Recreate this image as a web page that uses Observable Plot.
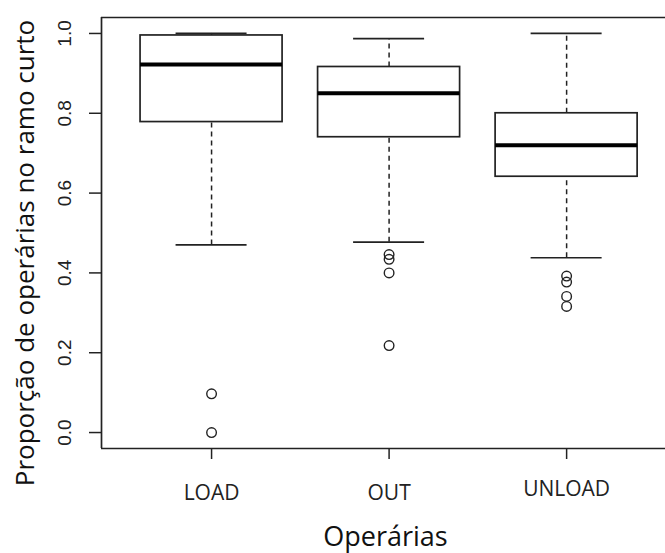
<!DOCTYPE html>
<html>
<head>
<meta charset="utf-8">
<script src="https://cdn.jsdelivr.net/npm/d3@7"></script>
<script src="https://cdn.jsdelivr.net/npm/@observablehq/plot@0.6"></script>
<style>
  html, body { margin: 0; padding: 0; background: #fff; }
  #chart svg { display: block; }
</style>
</head>
<body>
<div id="chart"></div>
<script>
// Box-plot summary per worker group (proportion on the short branch)
const groups = ["LOAD", "OUT", "UNLOAD"];
const whiskerLow = [0.47, 0.477, 0.438];
const q1 = [0.778, 0.74, 0.641];
const median = [0.922, 0.85, 0.72];
const q3 = [0.995, 0.916, 0.80];
const whiskerHigh = [1.0, 0.987, 1.0];

// Points beyond the whiskers
const outlierGroup = ["LOAD", "LOAD", "OUT", "OUT", "OUT", "OUT", "UNLOAD", "UNLOAD", "UNLOAD", "UNLOAD"];
const outlierValue = [0.097, 0.0, 0.446, 0.434, 0.40, 0.218, 0.392, 0.377, 0.341, 0.316];

const yTicks = [0, 0.2, 0.4, 0.6, 0.8, 1.0];
const yTitle = "Proporção de operárias no ramo curto";
const xTitle = "Operárias";

// Groups sit at x = 1, 2, 3; boxes are 0.8 wide, staples half that
const boxHalf = 0.4, capHalf = 0.2;
const xDomain = [0.38, 3.557];
const yDomain = [-0.04, 1.04];

const boxes = groups.map((g, i) => ({
  group: g, pos: i + 1,
  lo: whiskerLow[i], q1: q1[i], med: median[i], q3: q3[i], hi: whiskerHigh[i]
}));
const outliers = outlierGroup.map((g, i) => ({pos: groups.indexOf(g) + 1, value: outlierValue[i]}));

const ink = "#222";
const sans = "'Open Sans', 'DejaVu Sans', sans-serif";

const chart = Plot.plot({
  width: 665,
  height: 553,
  marginLeft: 101,
  marginRight: 0,
  marginTop: 17,
  marginBottom: 105,
  style: {fontFamily: "'Liberation Sans', Arial, sans-serif", background: "#fff", color: ink},
  x: {type: "linear", domain: xDomain},
  y: {domain: yDomain},
  marks: [
    // open frame: left, top and bottom edges
    Plot.ruleX([xDomain[0]], {stroke: ink, strokeWidth: 1.7}),
    Plot.ruleY(yDomain, {stroke: ink, strokeWidth: 1.7}),

    // dashed whiskers
    Plot.ruleX(boxes, {x: "pos", y1: "q3", y2: "hi", stroke: ink, strokeWidth: 1.5, strokeDasharray: "5,4"}),
    Plot.ruleX(boxes, {x: "pos", y1: "lo", y2: "q1", stroke: ink, strokeWidth: 1.5, strokeDasharray: "5,4"}),
    // staples
    Plot.ruleY(boxes, {y: "hi", x1: d => d.pos - capHalf, x2: d => d.pos + capHalf, stroke: ink, strokeWidth: 1.7}),
    Plot.ruleY(boxes, {y: "lo", x1: d => d.pos - capHalf, x2: d => d.pos + capHalf, stroke: ink, strokeWidth: 1.7}),
    // boxes
    Plot.rect(boxes, {x1: d => d.pos - boxHalf, x2: d => d.pos + boxHalf, y1: "q1", y2: "q3", fill: "#fff", stroke: ink, strokeWidth: 1.7}),
    // medians
    Plot.ruleY(boxes, {y: "med", x1: d => d.pos - boxHalf, x2: d => d.pos + boxHalf, stroke: "#000", strokeWidth: 4}),
    // outliers
    Plot.dot(outliers, {x: "pos", y: "value", r: 4.8, stroke: ink, strokeWidth: 1.4, fill: "none"}),

    // y axis: rotated tick labels
    Plot.axisY({
      ticks: yTicks, tickSize: 12, tickPadding: 19, tickRotate: -90,
      tickFormat: d3.format(".1f"), fontSize: 19, stroke: ink, strokeWidth: 1.5, color: ink, label: null
    }),
    // x axis
    Plot.axisX({
      ticks: [1, 2], tickSize: 11, tickPadding: 26, tickFormat: d => groups[d - 1],
      fontSize: 21, fontFamily: sans, stroke: ink, strokeWidth: 1.5, label: null
    }),
    Plot.axisX({
      ticks: [3], tickSize: 11, tickPadding: 22, tickFormat: d => groups[d - 1],
      fontSize: 21, fontFamily: sans, stroke: ink, strokeWidth: 1.5, label: null
    }),

    // axis titles
    Plot.text([yTitle], {
      frameAnchor: "left", textAnchor: "middle", rotate: -90, dx: -68, dy: 20, lineAnchor: "bottom",
      fontSize: 26, fontFamily: sans, fill: "#111"
    }),
    Plot.text([xTitle], {
      frameAnchor: "bottom", textAnchor: "middle", dx: 2, dy: 97, lineAnchor: "bottom",
      fontSize: 27, fontFamily: sans, fill: "#111"
    })
  ]
});

document.getElementById("chart").appendChild(chart);
</script>
</body>
</html>
